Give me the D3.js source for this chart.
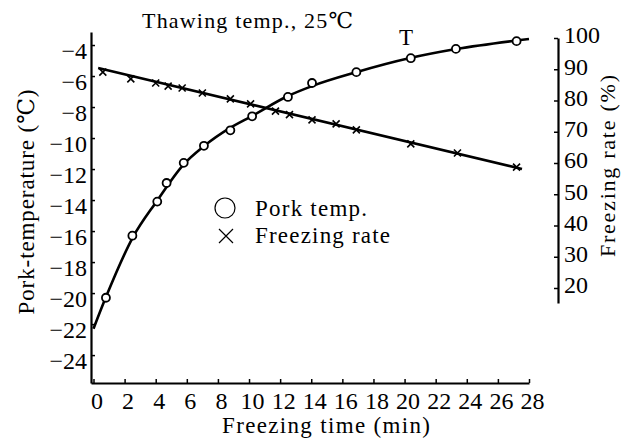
<!DOCTYPE html>
<html>
<head>
<meta charset="utf-8">
<script src="https://cdn.jsdelivr.net/npm/d3@7"></script>
<style>
  body { margin: 0; background: #fff; }
  svg text { font-family: "Liberation Serif", "DejaVu Serif", serif; fill: #000; }
</style>
</head>
<body>
<svg class="chart" width="622" height="443"></svg>
<script>
// pork temperature measurements (min, degC)
const porkTime = [0.8, 2.5, 4.1, 4.7, 5.8, 7.1, 8.8, 10.2, 12.5, 14.05, 16.9, 20.4, 23.3, 27.2];
const porkTemp = [-20.3, -16.3, -14.1, -12.9, -11.6, -10.5, -9.5, -8.6, -7.35, -6.45, -5.75, -4.85, -4.25, -3.75];

// smooth curve drawn through the temperature points
const curveTime = [0, 0.8, 2.54, 4.08, 5.76, 7.11, 8.78, 10.19, 12.5, 14.05, 16.94, 20.35, 23.31, 28];
const curveTemp = [-22.3, -20.26, -16.39, -14.06, -11.74, -10.52, -9.35, -8.58, -7.29, -6.65, -5.74, -4.84, -4.26, -3.61];

// freezing rate measurements (min, %)
const rateTime = [0.6, 2.4, 4.0, 4.8, 5.7, 7.0, 8.8, 10.1, 11.7, 12.6, 14.05, 15.6, 16.9, 20.4, 23.4, 27.2];
const rateValue = [89.1, 86.9, 85.6, 84.6, 84.0, 82.4, 80.5, 78.9, 76.6, 75.5, 73.8, 72.5, 70.6, 66.1, 63.2, 58.7];

// straight line for freezing rate (ends)
const rateLineTime = [0.3, 27.55];
const rateLineValue = [90.4, 58.1];

const xTicks = d3.range(0, 29, 2);
const tempTicks = d3.range(-24, -3, 2);
const rateTicks = d3.range(20, 101, 10);

const chart = d3.select('.chart');

const xScale = d3.scaleLinear().domain([-0.16, 28]).range([91, 529]);
const yTemp = d3.scaleLinear().domain([-25.8, -3.16]).range([383, 32]);
const yRate = d3.scaleLinear().domain([15.2, 100]).range([303, 38]);

const fontSize = 24;

// x axis
const xAxis = chart.append('g')
    .attr('transform', `translate(0, ${yTemp(-25.8)})`)
    .call(d3.axisBottom(xScale).tickValues(xTicks).tickSize(-4).tickSizeOuter(0).tickFormat(d3.format('d')));
xAxis.selectAll('text')
    .attr('y', 9).attr('dy', '0.71em').attr('dx', 3)
    .style('font-size', fontSize + 'px');

// left axis
const leftAxis = chart.append('g')
    .attr('transform', `translate(${xScale(-0.16)}, 0)`)
    .call(d3.axisLeft(yTemp).tickValues(tempTicks).tickSize(-4).tickSizeOuter(0).tickPadding(4));
leftAxis.selectAll('text')
    .attr('dy', '0.55em')
    .style('font-size', fontSize + 'px');

// right axis
const rightAxis = chart.append('g')
    .attr('transform', 'translate(558, 0)')
    .call(d3.axisRight(yRate).tickValues(rateTicks).tickSize(-4).tickSizeOuter(0).tickPadding(6));
rightAxis.selectAll('text')
    .attr('dy', '0.2em')
    .style('font-size', fontSize + 'px');

chart.selectAll('.domain').attr('stroke', '#000').attr('stroke-width', 2.2);
chart.selectAll('.tick line').attr('stroke', '#000').attr('stroke-width', 1.5);

// temperature curve
const tempLine = d3.line()
    .x(d => xScale(d[0]))
    .y(d => yTemp(d[1]))
    .curve(d3.curveMonotoneX);
chart.append('path')
    .datum(d3.zip(curveTime, curveTemp))
    .attr('d', tempLine)
    .attr('fill', 'none')
    .attr('stroke', '#000')
    .attr('stroke-width', 2.6);

// freezing rate line
const rateLine = d3.line()
    .x(d => xScale(d[0]))
    .y(d => yRate(d[1]));
chart.append('path')
    .datum(d3.zip(rateLineTime, rateLineValue))
    .attr('d', rateLine)
    .attr('fill', 'none')
    .attr('stroke', '#000')
    .attr('stroke-width', 2.6);

// cross markers
const crossSize = 3.5;
chart.selectAll('.cross')
    .data(d3.zip(rateTime, rateValue))
    .enter()
    .append('path')
    .classed('cross', true)
    .attr('d', d => {
        const cx = xScale(d[0]), cy = yRate(d[1]);
        return `M${cx - crossSize},${cy - crossSize}L${cx + crossSize},${cy + crossSize}` +
            `M${cx - crossSize},${cy + crossSize}L${cx + crossSize},${cy - crossSize}`;
    })
    .attr('stroke', '#000')
    .attr('stroke-width', 1.6);

// circle markers
chart.selectAll('.pt')
    .data(d3.zip(porkTime, porkTemp))
    .enter()
    .append('circle')
    .classed('pt', true)
    .attr('cx', d => xScale(d[0]))
    .attr('cy', d => yTemp(d[1]))
    .attr('r', 4)
    .attr('fill', '#fff')
    .attr('stroke', '#000')
    .attr('stroke-width', 1.8);

// title and labels
chart.append('text')
    .attr('x', 142).attr('y', 28)
    .attr('textLength', 211).attr('lengthAdjust', 'spacing')
    .style('font-size', '22px')
    .text('Thawing temp., 25℃');

chart.append('text')
    .attr('x', 406).attr('y', 45)
    .attr('text-anchor', 'middle')
    .style('font-size', '23px')
    .text('T');

chart.append('text')
    .attr('x', 326).attr('y', 433)
    .attr('text-anchor', 'middle')
    .attr('textLength', 208).attr('lengthAdjust', 'spacing')
    .style('font-size', '23px')
    .text('Freezing time (min)');

chart.append('text')
    .attr('transform', 'translate(34, 202) rotate(-90)')
    .attr('text-anchor', 'middle')
    .attr('textLength', 225).attr('lengthAdjust', 'spacing')
    .style('font-size', '23px')
    .text('Pork-temperature (℃)');

chart.append('text')
    .attr('transform', 'translate(615, 166) rotate(-90)')
    .attr('text-anchor', 'middle')
    .attr('textLength', 182).attr('lengthAdjust', 'spacing')
    .style('font-size', '22px')
    .text('Freezing rate (%)');

// legend
chart.append('circle')
    .attr('cx', 225).attr('cy', 208).attr('r', 10)
    .attr('fill', 'none').attr('stroke', '#000').attr('stroke-width', 1.2);
chart.append('path')
    .attr('d', 'M219,229L233,243M219,243L233,229')
    .attr('stroke', '#000').attr('stroke-width', 1.2);
chart.append('text')
    .attr('x', 255).attr('y', 216)
    .attr('textLength', 112).attr('lengthAdjust', 'spacing')
    .style('font-size', '23px')
    .text('Pork temp.');
chart.append('text')
    .attr('x', 255).attr('y', 243)
    .attr('textLength', 135).attr('lengthAdjust', 'spacing')
    .style('font-size', '23px')
    .text('Freezing rate');
</script>
</body>
</html>
